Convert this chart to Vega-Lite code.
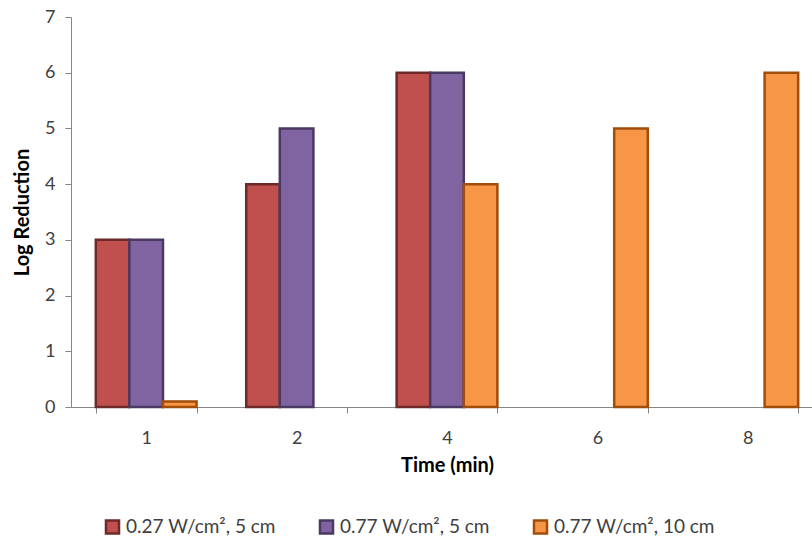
{
  "$schema": "https://vega.github.io/schema/vega-lite/v6.json",
  "width": 752,
  "height": 390,
  "autosize": {"type": "none"},
  "padding": {"left": 71, "top": 17, "right": 0, "bottom": 132},
  "background": "white",
  "config": {
    "view": {"stroke": null},
    "font": "Lato"
  },
  "data": {
    "values": [
      {"time": "1", "series": "0.27 W/cm², 5 cm", "value": 3},
      {"time": "1", "series": "0.77 W/cm², 5 cm", "value": 3},
      {"time": "1", "series": "0.77 W/cm², 10 cm", "value": 0.1},
      {"time": "2", "series": "0.27 W/cm², 5 cm", "value": 4},
      {"time": "2", "series": "0.77 W/cm², 5 cm", "value": 5},
      {"time": "4", "series": "0.27 W/cm², 5 cm", "value": 6},
      {"time": "4", "series": "0.77 W/cm², 5 cm", "value": 6},
      {"time": "4", "series": "0.77 W/cm², 10 cm", "value": 4},
      {"time": "6", "series": "0.77 W/cm², 10 cm", "value": 5},
      {"time": "8", "series": "0.77 W/cm², 10 cm", "value": 6}
    ]
  },
  "mark": {"type": "bar", "strokeWidth": 2.5},
  "encoding": {
    "x": {
      "field": "time",
      "type": "nominal",
      "sort": ["1", "2", "4", "6", "8"],
      "scale": {"paddingInner": 0.33, "paddingOuter": 0.165},
      "axis": {
        "title": "Time (min)",
        "titleFontSize": 20,
        "titleFontWeight": "bold",
        "titleColor": "#000000",
        "titlePadding": 8,
        "labelAngle": 0,
        "labelFontSize": 18,
        "labelColor": "#404040",
        "labelPadding": 16,
        "tickBand": "extent",
        "tickSize": 6,
        "tickColor": "#868686",
        "domainColor": "#868686",
        "grid": false
      }
    },
    "xOffset": {
      "field": "series",
      "type": "nominal",
      "sort": ["0.27 W/cm², 5 cm", "0.77 W/cm², 5 cm", "0.77 W/cm², 10 cm"],
      "scale": {"paddingInner": 0, "paddingOuter": 0}
    },
    "y": {
      "field": "value",
      "type": "quantitative",
      "scale": {"domain": [0, 7], "nice": false},
      "axis": {
        "title": "Log Reduction",
        "titleFontSize": 20,
        "titleFontWeight": "bold",
        "titleColor": "#000000",
        "titlePadding": 12,
        "values": [0, 1, 2, 3, 4, 5, 6, 7],
        "labelFontSize": 18,
        "labelColor": "#404040",
        "labelPadding": 10,
        "tickSize": 6,
        "tickColor": "#868686",
        "domainColor": "#868686",
        "grid": false
      }
    },
    "fill": {
      "field": "series",
      "type": "nominal",
      "sort": ["0.27 W/cm², 5 cm", "0.77 W/cm², 5 cm", "0.77 W/cm², 10 cm"],
      "scale": {"range": ["#C0504D", "#8064A2", "#F79646"]},
      "legend": {
        "title": null,
        "orient": "none",
        "direction": "horizontal",
        "legendX": 32,
        "legendY": 500,
        "symbolType": "square",
        "symbolSize": 170,
        "symbolStrokeWidth": 2.5,
        "labelFontSize": 19,
        "labelColor": "#404040",
        "labelOffset": 4,
        "labelLimit": 400,
        "columnPadding": 38,
        "encode": {
          "symbols": {
            "update": {
              "stroke": {"scale": "stroke", "field": "value"},
              "strokeWidth": {"value": 2.5}
            }
          }
        }
      }
    },
    "stroke": {
      "field": "series",
      "type": "nominal",
      "sort": ["0.27 W/cm², 5 cm", "0.77 W/cm², 5 cm", "0.77 W/cm², 10 cm"],
      "scale": {"range": ["#6E2A28", "#4A3A63", "#A24E0B"]},
      "legend": null
    }
  }
}
